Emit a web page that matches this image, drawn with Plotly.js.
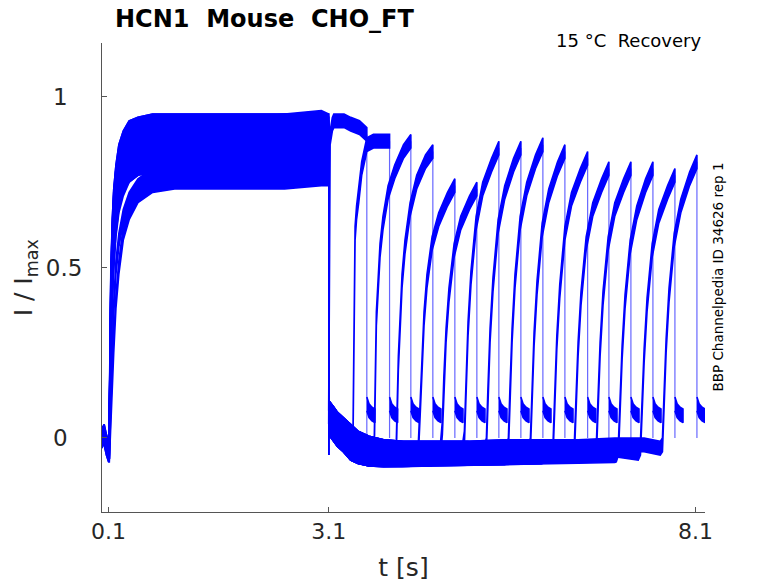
<!DOCTYPE html>
<html>
<head>
<meta charset="utf-8">
<script src="https://cdn.plot.ly/plotly-3.0.1.min.js"></script>
<style>
  body { margin: 0; background: #fff; }
  #plot { width: 778px; height: 583px; }
</style>
</head>
<body>
<div id="plot"></div>
<script>
// first (activating) step, same sample times for all 16 sweeps
var actTime = [0.01, 0.04, 0.07, 0.1, 0.11, 0.12, 0.13, 0.15, 0.17, 0.2, 0.24, 0.3, 0.38, 0.5, 0.7, 1.0, 1.5, 2.0, 2.5, 3.0, 3.1];
var actValues = [
    [0.0, 0.01, -0.02, -0.04, -0.03, 0.28, 0.45, 0.62, 0.71, 0.78, 0.84, 0.88, 0.91, 0.92, 0.93, 0.93, 0.93, 0.93, 0.93, 0.93, 0.93],
    [0.01, 0.0, -0.02, -0.04, -0.03, 0.26, 0.44, 0.6, 0.69, 0.77, 0.82, 0.87, 0.9, 0.91, 0.92, 0.92, 0.92, 0.92, 0.93, 0.92, 0.92],
    [0.0, 0.02, -0.01, -0.03, -0.03, 0.24, 0.42, 0.58, 0.68, 0.76, 0.81, 0.86, 0.89, 0.9, 0.91, 0.91, 0.91, 0.91, 0.91, 0.91, 0.91],
    [-0.01, 0.01, -0.02, -0.04, -0.04, 0.22, 0.4, 0.57, 0.67, 0.75, 0.8, 0.85, 0.88, 0.89, 0.9, 0.9, 0.9, 0.9, 0.9, 0.91, 0.9],
    [0.0, 0.01, -0.02, -0.04, -0.04, 0.02, 0.1, 0.25, 0.38, 0.5, 0.58, 0.65, 0.7, 0.74, 0.77, 0.78, 0.78, 0.78, 0.78, 0.79, 0.79],
    [0.0, 0.0, -0.03, -0.05, -0.05, -0.02, 0.05, 0.15, 0.27, 0.4, 0.5, 0.6, 0.66, 0.71, 0.74, 0.75, 0.75, 0.75, 0.75, 0.76, 0.76],
    [0.01, 0.01, -0.02, -0.04, -0.03, 0.27, 0.45, 0.6, 0.7, 0.77, 0.83, 0.87, 0.9, 0.91, 0.92, 0.92, 0.92, 0.92, 0.92, 0.92, 0.92],
    [0.0, 0.01, -0.02, -0.03, -0.03, 0.24, 0.41, 0.57, 0.67, 0.75, 0.8, 0.85, 0.88, 0.89, 0.9, 0.9, 0.9, 0.9, 0.9, 0.9, 0.9],
    [0.01, 0.02, -0.01, -0.03, -0.02, 0.3, 0.47, 0.62, 0.71, 0.78, 0.84, 0.88, 0.91, 0.92, 0.93, 0.93, 0.93, 0.93, 0.93, 0.94, 0.93],
    [0.0, 0.01, -0.02, -0.04, -0.03, 0.22, 0.4, 0.56, 0.66, 0.74, 0.79, 0.84, 0.87, 0.88, 0.89, 0.89, 0.89, 0.89, 0.89, 0.89, 0.89],
    [0.0, 0.0, -0.02, -0.04, -0.04, 0.2, 0.38, 0.55, 0.65, 0.73, 0.78, 0.83, 0.86, 0.87, 0.88, 0.88, 0.88, 0.88, 0.88, 0.88, 0.88],
    [0.0, 0.01, -0.02, -0.04, -0.04, 0.16, 0.33, 0.5, 0.6, 0.69, 0.74, 0.79, 0.82, 0.83, 0.84, 0.84, 0.84, 0.84, 0.84, 0.85, 0.85],
    [0.0, 0.0, -0.03, -0.05, -0.04, 0.12, 0.27, 0.44, 0.55, 0.64, 0.71, 0.76, 0.79, 0.81, 0.82, 0.82, 0.82, 0.82, 0.82, 0.82, 0.82],
    [0.0, 0.01, -0.02, -0.04, -0.04, 0.1, 0.25, 0.42, 0.53, 0.62, 0.69, 0.74, 0.77, 0.79, 0.8, 0.8, 0.8, 0.8, 0.8, 0.8, 0.8],
    [0.0, 0.0, -0.02, -0.04, -0.04, 0.08, 0.22, 0.4, 0.51, 0.61, 0.68, 0.73, 0.77, 0.79, 0.8, 0.8, 0.8, 0.8, 0.8, 0.81, 0.81],
    [0.0, 0.01, -0.02, -0.04, -0.03, 0.18, 0.36, 0.52, 0.63, 0.71, 0.76, 0.81, 0.84, 0.85, 0.86, 0.86, 0.86, 0.86, 0.86, 0.86, 0.86]
];

// deactivation tail after 3.1 s, three levels the sweeps fall into
var tailTime = [3.1, 3.13, 3.17, 3.22, 3.3, 3.4, 3.5, 3.65, 3.85, 4.1, 4.5, 5.0, 5.5, 6.0, 6.5, 7.0, 7.4, 7.7];
var tailHigh = [0.09, 0.08, 0.07, 0.055, 0.04, 0.02, 0.0, -0.015, -0.025, -0.03, -0.03, -0.03, -0.025, -0.025, -0.025, -0.02, -0.02, -0.02];
var tailMid = [0.06, 0.05, 0.04, 0.025, 0.01, -0.01, -0.025, -0.035, -0.04, -0.045, -0.045, -0.045, -0.04, -0.04, -0.04, -0.035, -0.035, -0.035];
var tailLow = [0.03, 0.02, 0.01, -0.005, -0.02, -0.045, -0.055, -0.062, -0.064, -0.064, -0.062, -0.06, -0.058, -0.056, -0.054, -0.052, -0.05, -0.048];
var sweepTail = [1, 0, 2, 1, 0, 2, 1, 0, 2, 1, 2, 0, 1, 2, 1, 0];   // 0 high, 1 mid, 2 low

// second (test) step: start of each sweep's 0.5 s pulse
var recStart = [3.12, 3.43, 3.72, 4.02, 4.32, 4.62, 4.92, 5.22, 5.52, 5.82, 6.13, 6.42, 6.72, 7.02, 7.32, 7.62];
var riseTime = [0, 0.03, 0.05, 0.08, 0.12, 0.19, 0.28, 0.4, 0.5];   // s after recStart
var riseValues = [
    [0.88, 0.92, 0.93, 0.93, 0.93, 0.93, 0.92, 0.91, 0.89],
    [-0.03, 0.6, 0.66, 0.71, 0.79, 0.86, 0.87, 0.87, 0.87],
    [-0.04, 0.35, 0.45, 0.55, 0.63, 0.72, 0.78, 0.84, 0.87],
    [-0.045, 0.22, 0.33, 0.46, 0.56, 0.67, 0.75, 0.81, 0.84],
    [-0.045, 0.1, 0.22, 0.35, 0.46, 0.57, 0.64, 0.7, 0.74],
    [-0.045, 0.03, 0.16, 0.3, 0.42, 0.55, 0.63, 0.69, 0.73],
    [-0.045, 0.0, 0.15, 0.32, 0.47, 0.63, 0.73, 0.8, 0.85],
    [-0.045, -0.02, 0.12, 0.3, 0.45, 0.62, 0.72, 0.8, 0.85],
    [-0.04, -0.02, 0.12, 0.3, 0.46, 0.63, 0.73, 0.81, 0.86],
    [-0.04, -0.02, 0.11, 0.29, 0.44, 0.61, 0.71, 0.79, 0.84],
    [-0.045, -0.025, 0.1, 0.28, 0.43, 0.6, 0.7, 0.77, 0.82],
    [-0.05, -0.03, 0.09, 0.26, 0.41, 0.57, 0.67, 0.74, 0.79],
    [-0.045, -0.03, 0.09, 0.26, 0.41, 0.57, 0.67, 0.74, 0.79],
    [-0.05, -0.03, 0.08, 0.25, 0.4, 0.56, 0.66, 0.74, 0.79],
    [-0.045, -0.03, 0.08, 0.24, 0.39, 0.55, 0.65, 0.72, 0.77],
    [-0.03, -0.02, 0.1, 0.27, 0.42, 0.58, 0.68, 0.76, 0.81]
];

// short tail after the test step
var postTime = [0, 0.03, 0.07, 0.11];
var postLevel = [0.1, 0.08, 0.07, 0.065];

var xTicks = [0.1, 3.1, 8.1];
var yTicks = [0, 0.5, 1];
var yTickText = ['0\u2007', '0.5', '1\u2007'];

var NOISE = 0.02;   // half height of the drawn noise band
var BLUE = 'rgb(0,0,255)';

// noisy recording drawn as a band around the values
function band(xs, ys) {
    var bx = xs.concat(xs.slice().reverse());
    var up = ys.map(function (v) { return v + NOISE; });
    var lo = ys.slice().reverse().map(function (v) { return v - NOISE; });
    return {
        type: 'scatter', mode: 'lines', x: bx, y: up.concat(lo),
        fill: 'toself', fillcolor: BLUE,
        line: {color: BLUE, width: 1.6}, hoverinfo: 'skip'
    };
}

var tails = [tailHigh, tailMid, tailLow];
var data = [];
var dropX = [], dropY = [];

for (var i = 0; i < recStart.length; i++) {
    var act = actValues[i];
    data.push(band(actTime, act));

    var tl = tails[sweepTail[i]];
    var sx = [], sy = [];
    for (var k = 0; k < tailTime.length; k++) {
        if (tailTime[k] < recStart[i]) { sx.push(tailTime[k]); sy.push(tl[k]); }
    }
    for (k = 0; k < riseTime.length; k++) {
        sx.push(recStart[i] + riseTime[k]);
        sy.push(riseValues[i][k]);
    }
    data.push(band(sx, sy));

    var tEnd = sx[sx.length - 1];
    data.push(band(postTime.map(function (d) { return tEnd + d; }), postLevel));

    dropX.push(3.1, 3.1, null, tEnd, tEnd, null);
    dropY.push(act[act.length - 1], -0.05, null, sy[sy.length - 1], 0.0, null);
}

data.push({
    type: 'scatter', mode: 'lines', x: dropX, y: dropY,
    line: {color: 'rgba(0,0,255,0.6)', width: 1.2}, hoverinfo: 'skip'
});

// empty trace on the overlay axes that carry the inward tick marks
data.push({type: 'scatter', mode: 'none', x: [null], y: [null], xaxis: 'x2', yaxis: 'y2', hoverinfo: 'skip'});

var axisColor = '#555555';
var xRange = [0.01, 8.23];
var yRange = [-0.217, 1.158];

var layout = {
    width: 778, height: 583,
    margin: {l: 102, r: 73, t: 43, b: 71},
    paper_bgcolor: '#ffffff', plot_bgcolor: '#ffffff',
    showlegend: false,
    font: {family: 'DejaVu Sans, sans-serif', color: '#262626'},
    title: {
        text: 'HCN1\u00a0\u00a0Mouse\u00a0\u00a0CHO_FT',
        font: {size: 24, weight: 'bold', color: '#000000'},
        xref: 'container', x: 115 / 778, xanchor: 'left',
        yref: 'container', y: 1 - 19 / 583, yanchor: 'middle'
    },
    xaxis: {
        range: xRange,
        tickvals: xTicks, ticktext: xTicks.map(String),
        ticks: 'inside', ticklen: 5, tickcolor: axisColor,
        showline: true, linecolor: axisColor, linewidth: 1,
        showgrid: false, zeroline: false,
        tickfont: {size: 22},
        title: {text: 't [s]', font: {size: 25}, standoff: 15}
    },
    yaxis: {
        range: yRange,
        tickvals: yTicks, ticktext: yTickText,
        ticks: 'outside', ticklen: 14, tickcolor: 'rgba(0,0,0,0)',
        showline: true, linecolor: axisColor, linewidth: 1,
        showgrid: false, zeroline: false,
        tickfont: {size: 23}
    },
    xaxis2: {
        overlaying: 'x', range: xRange, tickvals: xTicks,
        ticks: 'inside', ticklen: 5, tickcolor: axisColor,
        showticklabels: false, showline: false, showgrid: false, zeroline: false
    },
    yaxis2: {
        overlaying: 'y', range: yRange, tickvals: yTicks,
        ticks: 'inside', ticklen: 5, tickcolor: axisColor,
        showticklabels: false, showline: false, showgrid: false, zeroline: false
    },
    annotations: [
        {
            text: 'I / I<sub>max</sub>', showarrow: false,
            xref: 'paper', yref: 'paper', x: -0.128, y: 0.5,
            xanchor: 'center', yanchor: 'middle', textangle: -90,
            font: {size: 25, color: '#262626'}
        },
        {
            text: '15 \u00b0C\u00a0\u00a0Recovery', showarrow: false,
            xref: 'paper', yref: 'paper', x: 0.997, y: 1.005,
            xanchor: 'right', yanchor: 'middle',
            font: {size: 18, color: '#000000'}
        },
        {
            text: 'BBP Channelpedia ID 34626 rep 1', showarrow: false,
            xref: 'paper', yref: 'paper', x: 1.02, y: 0.5,
            xanchor: 'center', yanchor: 'middle', textangle: -90,
            font: {size: 13.5, color: '#000000'}
        }
    ]
};

Plotly.newPlot('plot', data, layout, {displayModeBar: false, staticPlot: true});
</script>
</body>
</html>
